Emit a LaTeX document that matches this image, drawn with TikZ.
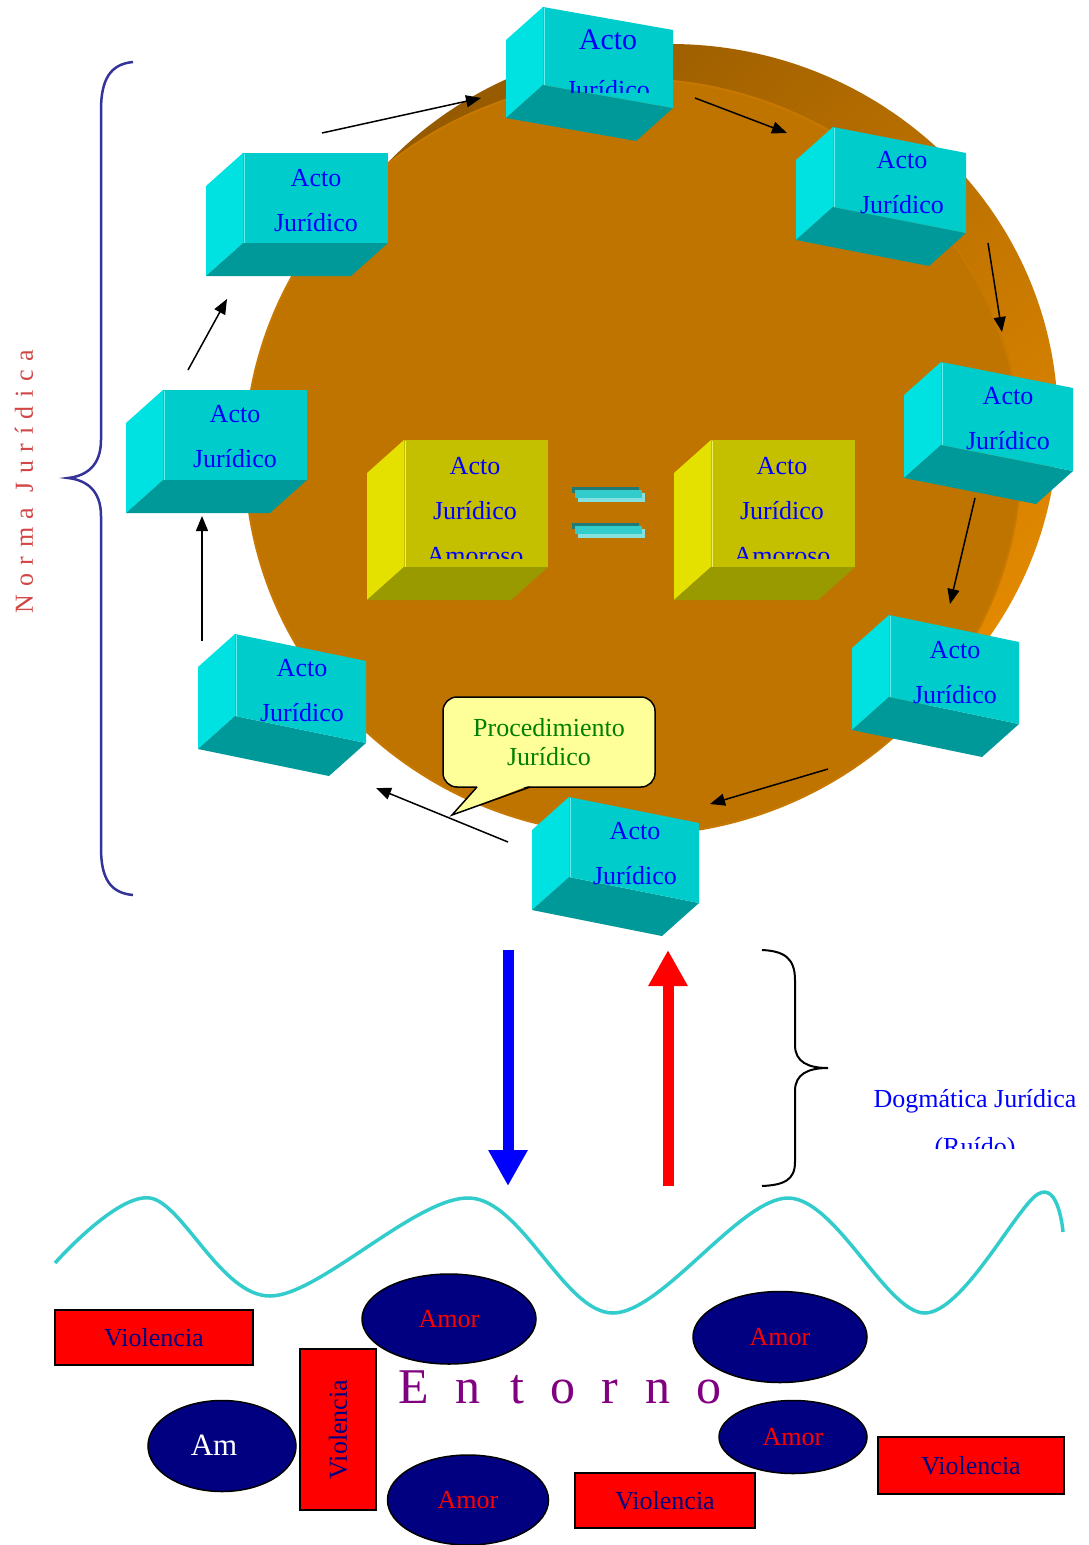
\documentclass[tikz,border=0pt]{standalone}
\usepackage{fontspec}
\setmainfont{Liberation Serif}
\newfontfamily\spacedfont[LetterSpace=33]{Liberation Serif}
\usetikzlibrary{arrows.meta,shapes.geometric}

\definecolor{disco}{RGB}{192,116,0}
\definecolor{bordeoscuro}{RGB}{150,90,0}
\definecolor{bordeclaro}{RGB}{228,138,0}
\definecolor{caraC}{RGB}{0,204,204}
\definecolor{ladoC}{RGB}{0,226,226}
\definecolor{baseC}{RGB}{0,153,153}
\definecolor{caraA}{RGB}{196,192,0}
\definecolor{ladoA}{RGB}{228,224,0}
\definecolor{baseA}{RGB}{153,153,0}
\definecolor{globo}{RGB}{255,255,153}
\definecolor{ola}{RGB}{51,204,204}
\definecolor{marino}{RGB}{0,0,128}
\definecolor{llave}{RGB}{51,51,153}
\definecolor{norma}{RGB}{210,70,70}
\definecolor{entorno}{RGB}{128,0,128}

% caja 3D: x, y (esquina sup. izq. de la cara), ancho, alto, inclinacion, cara, lado, base
\newcommand{\caja}[8]{%
	\fill[#7] ({#1},{#2}) -- ++(-37,33) -- ++(0,{#4}) -- ({#1},{#2+#4}) -- cycle;
	\fill[#8] ({#1},{#2+#4}) -- ++(-37,33) -- ({#1+#3-37},{#2+#5+#4+33}) -- ({#1+#3},{#2+#5+#4}) -- cycle;
	\fill[#6] ({#1},{#2}) -- ({#1+#3},{#2+#5}) -- ({#1+#3},{#2+#5+#4}) -- ({#1},{#2+#4}) -- cycle;
	\draw[#7!60!white, line width=1.2pt] ({#1+1.5},{#2+1}) -- ({#1+1.5},{#2+#4});
}

\begin{document}
\begin{tikzpicture}[x=1pt,y=-1pt,
		acto/.style={text=blue, align=center, font=\fontsize{26}{45}\selectfont, inner sep=0pt},
		flecha/.style={line width=1.5pt, -{Triangle[length=15pt,width=12pt]}},
		amor/.style={ellipse, draw, line width=1.5pt, fill=marino, text=red, font=\fontsize{26}{26}\selectfont, inner sep=0pt},
		viol/.style={rectangle, draw, line width=1.5pt, fill=red, text=marino, font=\fontsize{26}{26}\selectfont, inner sep=0pt}]
	\useasboundingbox (0,0) rectangle (1088,1545);
	
	% disco
	\shade[top color=bordeoscuro, bottom color=bordeclaro, shading angle=40] (670,422) ellipse [x radius=388, y radius=378];
	\fill[disco] (633,457) ellipse [x radius=388, y radius=378];
	\draw[disco!80!bordeclaro, line width=2pt] (633,457) ellipse [x radius=388, y radius=378];
	
	% actos juridicos
	\caja{543}{7}{130}{78}{23}{caraC}{ladoC}{baseC}
	\caja{243}{153}{145}{90}{0}{caraC}{ladoC}{baseC}
	\caja{163}{390}{144}{90}{0}{caraC}{ladoC}{baseC}
	\caja{235}{634}{131}{82}{27}{caraC}{ladoC}{baseC}
	\caja{569}{797}{130}{80}{26}{caraC}{ladoC}{baseC}
	\caja{889}{615}{130}{82}{27}{caraC}{ladoC}{baseC}
	\caja{833}{127}{133}{80}{26}{caraC}{ladoC}{baseC}
	\caja{941}{362}{132}{83}{26}{caraC}{ladoC}{baseC}
	
	\node[acto, font=\fontsize{30}{30}\selectfont] (sup) at (608,40) {Acto};
	\begin{scope}
		\clip (540,0) rectangle (680,92);
		\node[acto] (supb) at (608,90) {Jurídico};
	\end{scope}
	\node[acto] (supizq) at (316,201) {Acto\\Jurídico};
	\node[acto] (izq) at (235,437) {Acto\\Jurídico};
	\node[acto] (infizq) at (302,691) {Acto\\Jurídico};
	\node[acto] (inf) at (635,854) {Acto\\Jurídico};
	\node[acto] (infder) at (955,673) {Acto\\Jurídico};
	\node[acto] (supder) at (902,183) {Acto\\Jurídico};
	\node[acto] (der) at (1008,419) {Acto\\Jurídico};
	
	% ciclo
	\coordinate (a1) at (322,133); \coordinate (b1) at (481,98);
	\coordinate (a2) at (695,98); \coordinate (b2) at (787,133);
	\coordinate (a3) at (988,243); \coordinate (b3) at (1002,332);
	\coordinate (a4) at (975,498); \coordinate (b4) at (950,604);
	\coordinate (a5) at (828,769); \coordinate (b5) at (710,804);
	\coordinate (a6) at (508,842); \coordinate (b6) at (376,788);
	\coordinate (a7) at (202,641); \coordinate (b7) at (202,516);
	\coordinate (a8) at (188,370); \coordinate (b8) at (227,299);
	\draw[flecha] (a1)--(b1);
	\draw[flecha] (a2)--(b2);
	\draw[flecha] (a3)--(b3);
	\draw[flecha] (a4)--(b4);
	\draw[flecha] (a5)--(b5);
	\draw[flecha] (a6)--(b6);
	\draw[flecha] (a7)--(b7);
	\draw[flecha] (a8)--(b8);
	
	% actos amorosos
	\caja{404}{440}{144}{127}{0}{caraA}{ladoA}{baseA}
	\caja{711}{440}{144}{127}{0}{caraA}{ladoA}{baseA}
	\begin{scope}
		\clip (400,440) rectangle (860,558);
		\node[acto] (amizq) at (475,511) {Acto\\Jurídico\\Amoroso};
		\node[acto] (amder) at (782,511) {Acto\\Jurídico\\Amoroso};
	\end{scope}
	
	% signo igual
	\fill[ola!60!white] (578,493) rectangle (645,502);
	\fill[ola!60!black] (572,487) rectangle (639,493);
	\fill[ola] (575,490) rectangle (642,498);
	\fill[ola!60!white] (578,529) rectangle (645,538);
	\fill[ola!60!black] (572,523) rectangle (639,529);
	\fill[ola] (575,526) rectangle (642,534);
	
	% procedimiento
	\node[draw, line width=1.5pt, rounded corners=14pt, fill=globo, minimum width=212pt, minimum height=90pt, inner sep=0pt,
		align=center, text=green!50!black, font=\fontsize{26}{29}\selectfont] (proc) at (549,742) {Procedimiento\\Jurídico};
	\fill[globo] (478,785.5) -- (452,815) -- (529,785.5) -- cycle;
	\draw[line width=1.5pt] (477,787) -- (452,815) -- (530,787);
	
	% norma juridica
	\draw[llave, line width=2.5pt] (133,62) .. controls (110,64) and (101,80) .. (101,110) -- (101,440)
		.. controls (101,466) and (86,476) .. (68,478) .. controls (86,480) and (101,490) .. (101,516)
		-- (101,848) .. controls (101,878) and (110,893) .. (133,895);
	\node[rotate=90, text=norma, font=\spacedfont\fontsize{26}{26}\selectfont] (nj) at (24,482) {Norma Jurídica};
	
	% dogmatica
	\coordinate (bs) at (508,950); \coordinate (be) at (508,1186);
	\coordinate (rs) at (668,1186); \coordinate (re) at (668,950);
	\draw[blue, line width=11pt, -{Triangle[length=36pt,width=37pt]}] (bs) -- (be);
	\draw[red, line width=11pt, -{Triangle[length=36pt,width=37pt]}] (rs) -- (re);
	\draw[line width=2pt] (762,950) .. controls (784,951) and (795,958) .. (795,980) -- (795,1045)
		.. controls (795,1062) and (808,1068) .. (828,1068) .. controls (808,1068) and (795,1074) .. (795,1091)
		-- (795,1162) .. controls (795,1180) and (784,1185) .. (762,1186);
	\begin{scope}
		\clip (850,1060) rectangle (1088,1148);
		\node[acto, font=\fontsize{26}{48}\selectfont] (dog) at (975,1125) {Dogmática Jurídica\\(Ruído)};
	\end{scope}
	
	% entorno
	\draw[ola, line width=3.5pt] plot[smooth, tension=0.55] coordinates {(55,1263) (150,1198) (270,1296) (470,1198) (613,1313) (788,1198) (925,1313) (1038,1194) (1063,1232)};
	\node[viol, minimum width=198pt, minimum height=55pt] (v1) at (154,1337.5) {Violencia};
	\node[viol, rotate=90, minimum width=161pt, minimum height=76pt] (v2) at (338,1429.5) {Violencia};
	\node[viol, minimum width=180pt, minimum height=55pt] (v3) at (665,1500.5) {Violencia};
	\node[viol, minimum width=186pt, minimum height=57pt] (v4) at (971,1465.5) {Violencia};
	\node[amor, minimum width=174pt, minimum height=90pt] (e1) at (449,1319) {Amor};
	\node[amor, minimum width=148pt, minimum height=91pt] (e2) at (222,1446) {};
	\node[text=white, font=\fontsize{31}{31}\selectfont] (e2t) at (214,1445) {Am};
	\node[amor, minimum width=161pt, minimum height=90pt] (e3) at (468,1500) {Amor};
	\node[amor, minimum width=174pt, minimum height=91pt] (e4) at (780,1337) {Amor};
	\node[amor, minimum width=148pt, minimum height=73pt] (e5) at (793,1437) {Amor};
	\foreach \l/\x [count=\i] in {E/414,n/468,t/517,o/563,r/610,n/658,o/709}
		\node[anchor=base, text=entorno, font=\fontsize{50}{50}\selectfont] (ent\i) at (\x,1403) {\l};
	
\end{tikzpicture}
\end{document}
